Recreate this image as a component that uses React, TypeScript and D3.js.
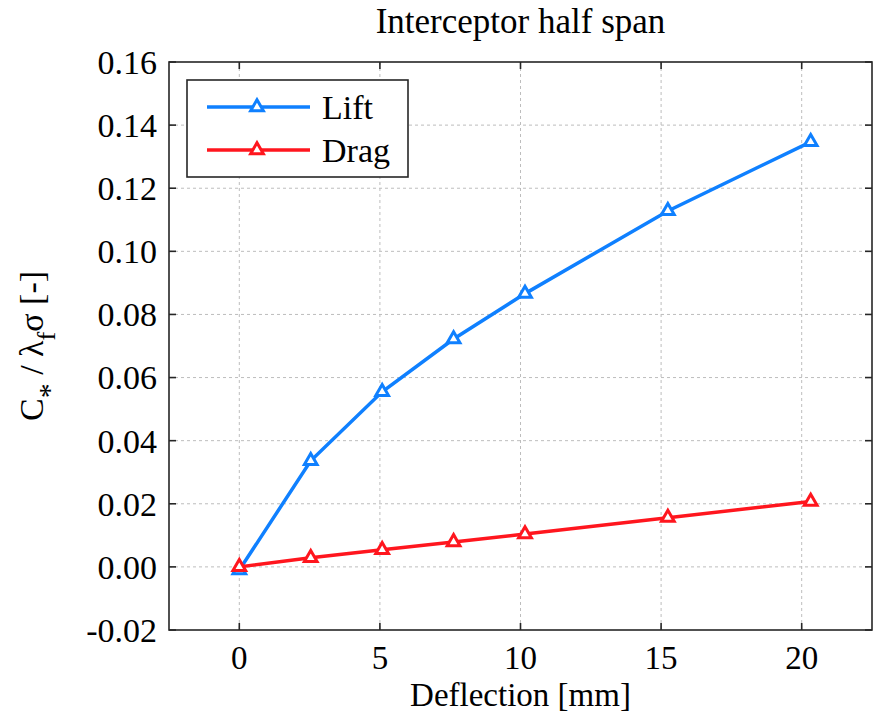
import React, { useRef, useEffect } from "react";
import * as d3 from "d3";

// deflection in mm (0.1 inch steps)
const DEFLECTION = [0, 2.54, 5.08, 7.62, 10.16, 15.24, 20.32];
const LIFT = [-0.001, 0.0336, 0.0555, 0.0722, 0.0866, 0.1128, 0.1347];
const DRAG = [0, 0.0029, 0.0054, 0.0079, 0.0104, 0.0156, 0.0207];

const X_TICKS = [0, 5, 10, 15, 20];
const Y_TICKS = [-0.02, 0, 0.02, 0.04, 0.06, 0.08, 0.1, 0.12, 0.14, 0.16];

const SERIES = [
  { name: "Lift", values: LIFT, color: "#0f80ff" },
  { name: "Drag", values: DRAG, color: "#ff161e" },
];

const FONT = "'Liberation Serif', 'Times New Roman', serif";

function App() {
  const svgRef = useRef<SVGSVGElement | null>(null);

  useEffect(() => {
    const width = 879;
    const height = 725;
    const margin = { top: 62, right: 6, bottom: 95, left: 169 };

    const svg = d3.select(svgRef.current).attr("width", width).attr("height", height);
    svg.selectAll("*").remove();

    const x = d3
      .scaleLinear()
      .domain([-2.5, 22.5])
      .range([margin.left, width - margin.right - 1]);
    const y = d3
      .scaleLinear()
      .domain([-0.02, 0.16])
      .range([height - margin.bottom, margin.top]);

    const [x0, x1] = x.range();
    const [y0, y1] = y.range();

    // grid
    const grid = svg.append("g").attr("stroke", "#bdbdbd").attr("stroke-width", 1).attr("stroke-dasharray", "3,3");
    grid
      .selectAll("line.gx")
      .data(X_TICKS)
      .enter()
      .append("line")
      .attr("x1", (d) => x(d))
      .attr("x2", (d) => x(d))
      .attr("y1", y1)
      .attr("y2", y0);
    grid
      .selectAll("line.gy")
      .data(Y_TICKS.slice(1, -1))
      .enter()
      .append("line")
      .attr("x1", x0)
      .attr("x2", x1)
      .attr("y1", (d) => y(d))
      .attr("y2", (d) => y(d));

    // box + inward ticks
    const tickLen = 7;
    const axisColor = "#262626";
    svg
      .append("rect")
      .attr("x", x0)
      .attr("y", y1)
      .attr("width", x1 - x0)
      .attr("height", y0 - y1)
      .attr("fill", "none")
      .attr("stroke", axisColor)
      .attr("stroke-width", 1.6);

    const ticks = svg.append("g").attr("stroke", axisColor).attr("stroke-width", 1.6);
    X_TICKS.forEach((t) => {
      ticks.append("line").attr("x1", x(t)).attr("x2", x(t)).attr("y1", y0).attr("y2", y0 - tickLen);
      ticks.append("line").attr("x1", x(t)).attr("x2", x(t)).attr("y1", y1).attr("y2", y1 + tickLen);
    });
    Y_TICKS.forEach((t) => {
      ticks.append("line").attr("x1", x0).attr("x2", x0 + tickLen).attr("y1", y(t)).attr("y2", y(t));
      ticks.append("line").attr("x1", x1).attr("x2", x1 - tickLen).attr("y1", y(t)).attr("y2", y(t));
    });

    // tick labels
    svg
      .append("g")
      .selectAll("text")
      .data(X_TICKS)
      .enter()
      .append("text")
      .attr("x", (d) => x(d))
      .attr("y", y0 + 39)
      .attr("text-anchor", "middle")
      .style("font-family", FONT)
      .style("font-size", "33px")
      .text((d) => d);

    svg
      .append("g")
      .selectAll("text")
      .data(Y_TICKS)
      .enter()
      .append("text")
      .attr("x", x0 - 12)
      .attr("y", (d) => y(d))
      .attr("dy", "0.35em")
      .attr("text-anchor", "end")
      .style("font-family", FONT)
      .style("font-size", "34px")
      .text((d) => d3.format(".2f")(d).replace("−", "-"));

    // series
    const line = d3
      .line<number>()
      .x((_, i) => x(DEFLECTION[i]))
      .y((d) => y(d));
    const tri = d3.symbol().type(d3.symbolTriangle).size(70);

    SERIES.forEach((s) => {
      svg
        .append("path")
        .attr("d", line(s.values))
        .attr("fill", "none")
        .attr("stroke", s.color)
        .attr("stroke-width", 3.5);
      svg
        .append("g")
        .selectAll("path")
        .data(s.values)
        .enter()
        .append("path")
        .attr("d", tri)
        .attr("transform", (d, i) => `translate(${x(DEFLECTION[i])},${y(d)})`)
        .attr("fill", "white")
        .attr("stroke", s.color)
        .attr("stroke-width", 3);
    });

    // legend
    const lg = svg.append("g");
    lg.append("rect")
      .attr("x", 187)
      .attr("y", 80)
      .attr("width", 221)
      .attr("height", 97)
      .attr("fill", "white")
      .attr("stroke", axisColor)
      .attr("stroke-width", 1.6);
    SERIES.forEach((s, i) => {
      const ly = 107 + i * 43;
      lg.append("line")
        .attr("x1", 207)
        .attr("x2", 310)
        .attr("y1", ly)
        .attr("y2", ly)
        .attr("stroke", s.color)
        .attr("stroke-width", 3.5);
      lg.append("path")
        .attr("d", tri)
        .attr("transform", `translate(257,${ly})`)
        .attr("fill", "white")
        .attr("stroke", s.color)
        .attr("stroke-width", 3);
      lg.append("text")
        .attr("x", 322)
        .attr("y", ly)
        .attr("dy", "0.35em")
        .style("font-family", FONT)
        .style("font-size", "34px")
        .text(s.name);
    });

    // title
    svg
      .append("text")
      .attr("x", (x0 + x1) / 2)
      .attr("y", 33)
      .attr("text-anchor", "middle")
      .style("font-family", FONT)
      .style("font-size", "35px")
      .text("Interceptor half span");

    // x label
    svg
      .append("text")
      .attr("x", (x0 + x1) / 2)
      .attr("y", 706)
      .attr("text-anchor", "middle")
      .style("font-family", FONT)
      .style("font-size", "33px")
      .text("Deflection [mm]");

    // y label
    const yl = svg
      .append("text")
      .attr("transform", `translate(43,${(y0 + y1) / 2}) rotate(-90)`)
      .attr("text-anchor", "middle")
      .style("font-family", FONT)
      .style("font-size", "34px");
    yl.append("tspan").text("C");
    yl.append("tspan").attr("dy", 16).style("font-size", "30px").text("*");
    yl.append("tspan").attr("dy", -16).text(" / λ");
    yl.append("tspan").attr("dy", 12).style("font-size", "26px").text("f");
    yl.append("tspan").attr("dy", -12).text("σ [-]");
  }, []);

  return <svg ref={svgRef} style={{ position: "absolute", left: 0, top: 0, background: "white" }}></svg>;
}

export default App;
